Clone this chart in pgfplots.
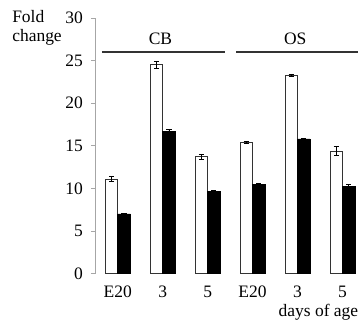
\documentclass[border=0pt]{standalone}
\usepackage{pgfplots}
\pgfplotsset{compat=1.18}
\usepackage{fontspec}
\setmainfont{Liberation Serif}
\begin{document}
\fontsize{17.5}{20}\selectfont
\begin{tikzpicture}
\begin{axis}[
  scale only axis,
  width=263pt, height=256pt,
  xmin=-0.489, xmax=5.356,
  ymin=0, ymax=30,
  ybar=0pt, bar width=12.5pt,
  axis lines=left,
  x axis line style={draw=none},
  y axis line style={draw=gray!70, line width=0.8pt, -},
  xtick=data,
  xticklabels={E20,3,5,E20,3,5},
  xtick style={draw=none},
  ytick={0,5,10,15,20,25,30},
  ytick style={draw=gray!70, line width=0.8pt},
  tick align=outside,
  major tick length=5pt,
  /pgf/number format/assume math mode=true,
  tick label style={font=\fontsize{17.5}{20}\selectfont, black},
  yticklabel style={xshift=-2pt},
  xticklabel style={yshift=-1pt},
  clip=false,
]
\addplot[fill=white, draw=black!80, line width=0.7pt,
  error bars/.cd, y dir=both, y explicit,
  error bar style={black, line width=0.6pt},
  error mark options={rotate=90, mark size=2.6pt, black, line width=0.6pt}]
  coordinates {
  (0,11.1) +- (0,0.3)
  (1,24.5) +- (0,0.4)
  (2,13.7) +- (0,0.3)
  (3,15.4) +- (0,0.1)
  (4,23.3) +- (0,0.12)
  (5,14.4) +- (0,0.5)
  };
\addplot[fill=black, draw=black, line width=0.7pt,
  error bars/.cd, y dir=both, y explicit,
  error bar style={black, line width=0.6pt},
  error mark options={rotate=90, mark size=2.6pt, black, line width=0.6pt}]
  coordinates {
  (0,7.0) +- (0,0.1)
  (1,16.7) +- (0,0.2)
  (2,9.6) +- (0,0.15)
  (3,10.5) +- (0,0.05)
  (4,15.8) +- (0,0.08)
  (5,10.2) +- (0,0.3)
  };
\draw[gray!40!black, line width=1.2pt] (axis cs:-0.356,26) -- (axis cs:2.38,26);
\draw[gray!40!black, line width=1.2pt] (axis cs:2.64,26) -- (axis cs:5.356,26);
\node at (axis cs:0.95,27.6) {CB};
\node at (axis cs:3.95,27.6) {OS};
\node[anchor=base west, inner sep=0pt] at (rel axis cs:-0.319,0.984) {Fold};
\node[anchor=base west, inner sep=0pt] at (rel axis cs:-0.319,0.906) {change};
\node[anchor=base east, inner sep=0pt] at (rel axis cs:1,0) [yshift=-43pt] {days of age};
\coordinate (bbsw) at (rel axis cs:-0.365,-0.203);
\coordinate (bbne) at (rel axis cs:1,1.0703);
\end{axis}
\path (bbsw) rectangle (bbne);
\end{tikzpicture}
\end{document}
